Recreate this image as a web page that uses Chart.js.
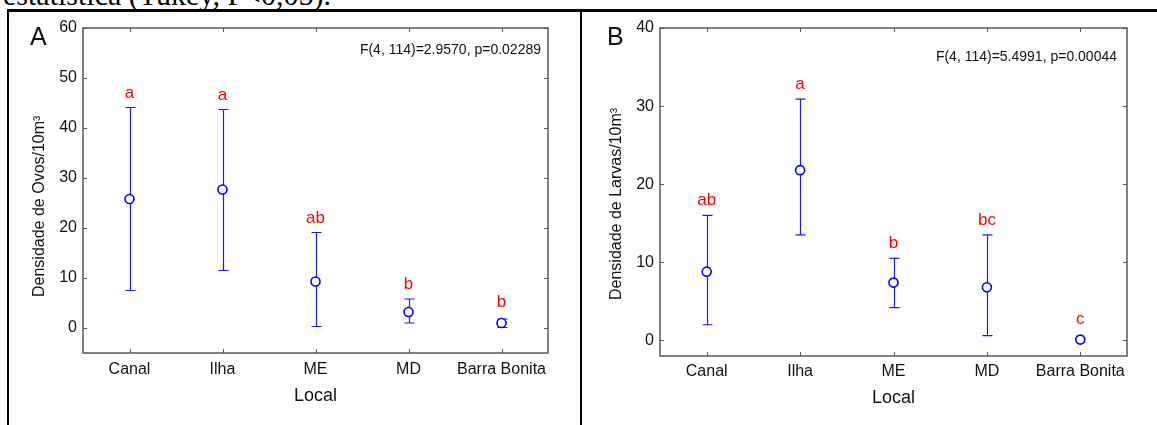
<!DOCTYPE html>
<html>
<head>
<meta charset="utf-8">
<title>Densidade de ovos e larvas por local</title>
<style>
  body { margin: 0; background: #fff; width: 1157px; height: 425px; overflow: hidden; position: relative; }
  .cabecalho { position: absolute; right: 826px; top: -20px; font-family: "Liberation Serif", serif; font-size: 30px; line-height: 30px; white-space: nowrap; color: #000; }
  .linha { position: absolute; background: #000; }
  canvas { position: absolute; top: 0; }
</style>
</head>
<body>
<div class="cabecalho">estatística (Tukey, P&lt;0,05).</div>
<div class="linha" style="left:7px; top:9px; width:1150px; height:3px"></div>
<div class="linha" style="left:7px; top:9px; width:2px; height:416px"></div>
<div class="linha" style="left:580px; top:9px; width:2px; height:416px"></div>
<canvas id="graficoA" width="580" height="425" style="left:0"></canvas>
<canvas id="graficoB" width="574" height="425" style="left:583px"></canvas>

<script src="https://cdn.jsdelivr.net/npm/chart.js"></script>
<script type="text/javascript">
    const locais = ['Canal', 'Ilha', 'ME', 'MD', 'Barra Bonita'];

    // A - ovos
    const ovosMedia = [25.8, 27.7, 9.3, 3.2, 1.0];
    const ovosSup = [44.1, 43.7, 19.1, 5.8, 1.8];
    const ovosInf = [7.5, 11.5, 0.3, 1.0, 0.1];
    const ovosLetras = ['a', 'a', 'ab', 'b', 'b'];
    const ovosTicks = [0, 10, 20, 30, 40, 50, 60];

    // B - larvas
    const larvasMedia = [8.8, 21.8, 7.4, 6.8, 0.1];
    const larvasSup = [16.0, 30.9, 10.5, 13.5, 0.1];
    const larvasInf = [2.0, 13.5, 4.2, 0.6, 0.1];
    const larvasLetras = ['ab', 'a', 'b', 'bc', 'c'];
    const larvasTicks = [0, 10, 20, 30, 40];

    const fonte = 'Liberation Sans';

    function painelPlugin(p) {
        return {
            id: 'painel',
            beforeDatasetsDraw(chart) {
                const { ctx, scales: { x, y } } = chart;
                ctx.save();
                ctx.strokeStyle = '#1a1aff';
                ctx.lineWidth = 1.2;
                ctx.beginPath();
                p.media.forEach((m, i) => {
                    if (p.sup[i] === p.inf[i]) return;
                    const px = Math.round(x.getPixelForValue(i)) + 0.5;
                    const yt = y.getPixelForValue(p.sup[i]);
                    const yb = y.getPixelForValue(p.inf[i]);
                    ctx.moveTo(px, yt); ctx.lineTo(px, yb);
                    ctx.moveTo(px - 5, yt); ctx.lineTo(px + 5, yt);
                    ctx.moveTo(px - 5, yb); ctx.lineTo(px + 5, yb);
                });
                ctx.stroke();
                ctx.restore();
            },
            afterDraw(chart) {
                const { ctx, chartArea: a, scales: { x, y } } = chart;
                ctx.save();
                // moldura e marcas internas
                ctx.strokeStyle = '#555';
                ctx.lineWidth = 1.5;
                ctx.strokeRect(a.left, a.top, a.right - a.left, a.bottom - a.top);
                ctx.lineWidth = 1;
                ctx.beginPath();
                x.ticks.forEach((t, i) => {
                    const px = Math.round(x.getPixelForTick(i)) + 0.5;
                    ctx.moveTo(px, a.top); ctx.lineTo(px, a.top + 4);
                    ctx.moveTo(px, a.bottom); ctx.lineTo(px, a.bottom - 4);
                });
                y.ticks.forEach((t, i) => {
                    const py = Math.round(y.getPixelForTick(i)) + 0.5;
                    ctx.moveTo(a.left, py); ctx.lineTo(a.left + 4, py);
                    ctx.moveTo(a.right, py); ctx.lineTo(a.right - 4, py);
                });
                ctx.stroke();

                // letras de Tukey
                ctx.fillStyle = '#ff0000';
                ctx.font = '17px "' + fonte + '"';
                ctx.textAlign = 'center';
                ctx.textBaseline = 'alphabetic';
                p.letras.forEach((l, i) => {
                    const px = x.getPixelForValue(i);
                    const base = Math.min(y.getPixelForValue(p.sup[i]), y.getPixelForValue(p.media[i]) - 6) - 10;
                    ctx.fillText(l, px, base);
                });

                // resultado da ANOVA
                ctx.fillStyle = '#111';
                ctx.font = '14px "' + fonte + '"';
                ctx.textAlign = 'right';
                ctx.textBaseline = 'middle';
                ctx.fillText(p.teste, p.testeX, p.testeY);

                // letra do painel
                ctx.font = '25px "' + fonte + '"';
                ctx.textAlign = 'left';
                ctx.textBaseline = 'alphabetic';
                ctx.fillText(p.painel, p.painelX, 45);

                // titulo do eixo y
                ctx.translate(p.tituloX, p.tituloY);
                ctx.rotate(-Math.PI / 2);
                ctx.font = '16px "' + fonte + '"';
                ctx.textBaseline = 'middle';
                ctx.fillText(p.titulo, 0, 0);
                ctx.restore();
            }
        };
    }

    function criarPainel(id, p) {
        new Chart(document.getElementById(id), {
            type: 'line',
            data: {
                labels: locais,
                datasets: [{
                    data: p.media,
                    showLine: false,
                    pointStyle: 'circle',
                    pointRadius: 4.5,
                    pointHoverRadius: 4.5,
                    pointBorderWidth: 1.6,
                    pointBorderColor: '#0000ff',
                    pointBackgroundColor: '#ffffff'
                }]
            },
            options: {
                responsive: false,
                animation: false,
                events: [],
                layout: { padding: { top: 28, right: p.dir, left: 0, bottom: 0 } },
                plugins: { legend: { display: false }, tooltip: { enabled: false } },
                scales: {
                    x: {
                        offset: true,
                        grid: { display: false, drawTicks: false },
                        border: { display: false },
                        ticks: { color: '#111', font: { family: fonte, size: 16 }, padding: p.padX, maxRotation: 0, autoSkip: false },
                        title: { display: true, text: 'Local', color: '#111', font: { family: fonte, size: 18 }, padding: { top: 0, bottom: p.padTitulo } },
                        afterFit(s) { s.height = p.altX; }
                    },
                    y: {
                        min: p.min,
                        max: p.max,
                        grid: { display: false, drawTicks: false },
                        border: { display: false },
                        ticks: { color: '#111', font: { family: fonte, size: 16 }, padding: 6 },
                        afterBuildTicks(s) { s.ticks = p.ticks.map(v => ({ value: v })); },
                        afterFit(s) { s.width = p.largY; }
                    }
                }
            },
            plugins: [painelPlugin(p)]
        });
    }

    criarPainel('graficoA', {
        media: ovosMedia, sup: ovosSup, inf: ovosInf, letras: ovosLetras, ticks: ovosTicks,
        min: -5, max: 60, dir: 32, largY: 83, altX: 72, padX: 7, padTitulo: 18,
        teste: 'F(4, 114)=2.9570, p=0.02289', testeX: 541, testeY: 50,
        painel: 'A', painelX: 30,
        titulo: 'Densidade de Ovos/10m³', tituloX: 40, tituloY: 297
    });

    criarPainel('graficoB', {
        media: larvasMedia, sup: larvasSup, inf: larvasInf, letras: larvasLetras, ticks: larvasTicks,
        min: -2, max: 40, dir: 30, largY: 77, altX: 69, padX: 6, padTitulo: 16,
        teste: 'F(4, 114)=5.4991, p=0.00044', testeX: 534, testeY: 57,
        painel: 'B', painelX: 24,
        titulo: 'Densidade de Larvas/10m³', tituloX: 34, tituloY: 300
    });
</script>
</body>
</html>
